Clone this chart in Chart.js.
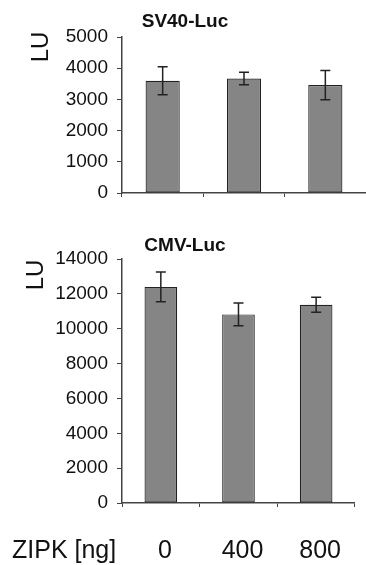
<!DOCTYPE html>
<html>
<head>
<meta charset="utf-8">
<script src="https://cdn.jsdelivr.net/npm/chart.js@4/dist/chart.umd.min.js"></script>
<style>
  body { margin: 0; background: #fff; }
  .wrap { position: relative; width: 366px; height: 565px; }
  canvas { position: absolute; left: 0; }
</style>
</head>
<body>
<div class="wrap">
  <canvas id="sv40" width="366" height="215" style="top:0px"></canvas>
  <canvas id="cmv" width="366" height="335" style="top:230px"></canvas>
</div>
<script>
// dados
const doses = ['0', '400', '800'];
const sv40Values = [3600, 3670, 3460];
const sv40Errors = [450, 200, 470];
const cmvValues = [12400, 10820, 11370];
const cmvErrors = [860, 650, 430];
const sv40Ticks = [0, 1000, 2000, 3000, 4000, 5000];
const cmvTicks = [0, 2000, 4000, 6000, 8000, 10000, 12000, 14000];

const FONT = "Arial, 'Liberation Sans', sans-serif";

// desenha barras de erro, título e os rótulos soltos
const extras = {
  id: 'extras',
  afterDatasetsDraw(chart, args, opts) {
    const ctx = chart.ctx;
    const y = chart.scales.y;
    const bars = chart.getDatasetMeta(0).data;
    ctx.save();
    ctx.strokeStyle = '#222';
    ctx.lineWidth = 1.5;
    bars.forEach((bar, i) => {
      const v = opts.values[i], e = opts.errors[i];
      const top = y.getPixelForValue(v + e);
      const bot = y.getPixelForValue(v - e);
      ctx.beginPath();
      ctx.moveTo(bar.x, top); ctx.lineTo(bar.x, bot);
      ctx.moveTo(bar.x - 5, top); ctx.lineTo(bar.x + 5, top);
      ctx.moveTo(bar.x - 5, bot); ctx.lineTo(bar.x + 5, bot);
      ctx.stroke();
    });

    ctx.fillStyle = '#111';
    ctx.textBaseline = 'middle';
    ctx.textAlign = 'center';
    ctx.font = 'bold 19px ' + FONT;
    ctx.fillText(opts.title, 185, opts.titleY);

    // "LU" rodado
    ctx.save();
    ctx.translate(opts.luX, opts.luY);
    ctx.rotate(-Math.PI / 2);
    ctx.font = '24px ' + FONT;
    ctx.fillText('LU', 0, 0);
    ctx.restore();

    if (opts.xName) {
      ctx.textAlign = 'left';
      ctx.font = '25px ' + FONT;
      ctx.fillText(opts.xName, 12, opts.xNameY);
    }
    ctx.restore();
  }
};

function makeChart(id, values, errors, ticks, opts) {
  const ctx = document.getElementById(id).getContext('2d');
  return new Chart(ctx, {
    type: 'bar',
    data: {
      labels: doses,
      datasets: [{
        data: values,
        backgroundColor: '#858585',
        borderColor: '#222',
        borderWidth: 1.2,
        borderSkipped: false,
        categoryPercentage: 1,
        barPercentage: 0.42
      }]
    },
    options: {
      responsive: false,
      animation: false,
      events: [],
      layout: { padding: { top: opts.padTop, left: 0, right: 0, bottom: 0 } },
      plugins: {
        legend: { display: false },
        tooltip: { enabled: false },
        extras: {
          values: values,
          errors: errors,
          title: opts.title,
          titleY: opts.titleY,
          luX: opts.luX,
          luY: opts.luY,
          xName: opts.xName,
          xNameY: opts.xNameY
        }
      },
      scales: {
        x: {
          afterFit(scale) { scale.height = opts.xHeight; },
          border: { display: true, color: '#444', width: 1.5 },
          grid: { offset: true, drawOnChartArea: false, drawTicks: true, tickLength: 4, color: '#444' },
          ticks: {
            display: opts.showLabels,
            color: '#111',
            padding: 29,
            labelOffset: 4,
            font: { family: FONT, size: 25 }
          }
        },
        y: {
          min: 0,
          max: ticks[ticks.length - 1],
          afterFit(scale) { scale.width = 122; },
          afterBuildTicks(scale) { scale.ticks = ticks.map(v => ({ value: v })); },
          border: { display: true, color: '#444', width: 1.5 },
          grid: { drawOnChartArea: false, drawTicks: true, tickLength: 5, color: '#444' },
          ticks: {
            color: '#111',
            padding: 9,
            font: { family: FONT, size: 19 },
            callback: v => String(v)
          }
        }
      }
    },
    plugins: [extras]
  });
}

makeChart('sv40', sv40Values, sv40Errors, sv40Ticks, {
  padTop: 37, xHeight: 22, showLabels: false,
  title: 'SV40-Luc', titleY: 22, luX: 41, luY: 47
});

makeChart('cmv', cmvValues, cmvErrors, cmvTicks, {
  padTop: 29, xHeight: 62, showLabels: true,
  title: 'CMV-Luc', titleY: 16, luX: 36, luY: 45,
  xName: 'ZIPK [ng]', xNameY: 321
});
</script>
</body>
</html>
